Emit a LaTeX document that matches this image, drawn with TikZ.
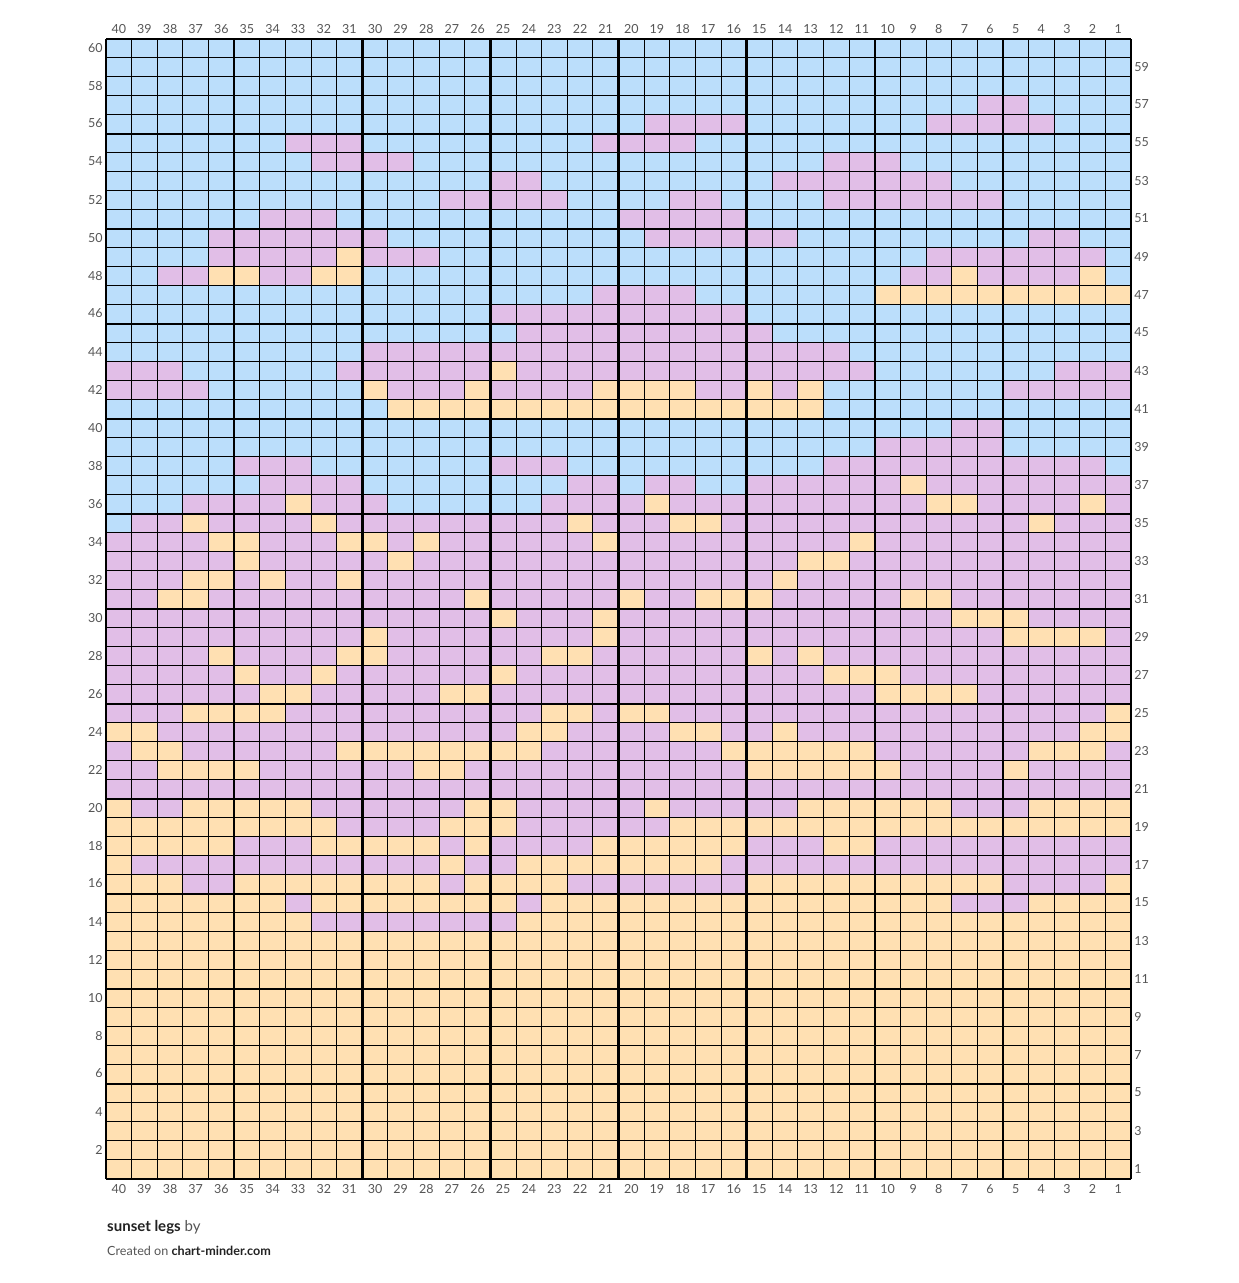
\documentclass[tikz,border=0pt]{standalone}
\usepackage{fontspec}
\setmainfont{Lato}
\definecolor{chartblue}{HTML}{BBDEFB}
\definecolor{chartpurple}{HTML}{E1BEE7}
\definecolor{chartpeach}{HTML}{FFE0B2}
\definecolor{labelgray}{HTML}{555555}
\definecolor{titleblack}{HTML}{222222}
\tikzset{
  cellB/.style={fill=chartblue},
  cellP/.style={fill=chartpurple},
  cellO/.style={fill=chartpeach},
  thin rule/.style={line width=1pt},
  thick rule/.style={line width=2.5pt},
  numlabel/.style={font=\fontsize{12.5}{14}\selectfont, text=labelgray, inner sep=0pt},
}
% one chart row: #1 row number, #2 cells from column 40 (left) to column 1 (right)
\newcommand\knitrow[2]{\def\knitr{#1}\def\knitc{0}\knitcell#2\relax}
\newcommand\knitcell[1]{%
  \ifx#1\relax\else
    \fill[cell#1] (\knitc,\knitr-1) rectangle ++(1,1);
    \pgfmathtruncatemacro\knitc{\knitc+1}%
    \expandafter\knitcell
  \fi}
\begin{document}
\begin{tikzpicture}[x=25.625pt,y=19pt]
\useasboundingbox (-4.137,-5.474) rectangle (44.176,62.053);
% rows 1 to 13 are all peach
\fill[cellO] (0,0) rectangle (40,13);
\knitrow{60}{BBBBB BBBBB BBBBB BBBBB BBBBB BBBBB BBBBB BBBBB}
\knitrow{59}{BBBBB BBBBB BBBBB BBBBB BBBBB BBBBB BBBBB BBBBB}
\knitrow{58}{BBBBB BBBBB BBBBB BBBBB BBBBB BBBBB BBBBB BBBBB}
\knitrow{57}{BBBBB BBBBB BBBBB BBBBB BBBBB BBBBB BBBBP PBBBB}
\knitrow{56}{BBBBB BBBBB BBBBB BBBBB BPPPP BBBBB BBPPP PPBBB}
\knitrow{55}{BBBBB BBPPP BBBBB BBBBP PPPBB BBBBB BBBBB BBBBB}
\knitrow{54}{BBBBB BBBPP PPBBB BBBBB BBBBB BBBPP PBBBB BBBBB}
\knitrow{53}{BBBBB BBBBB BBBBB PPBBB BBBBB BPPPP PPPBB BBBBB}
\knitrow{52}{BBBBB BBBBB BBBPP PPPBB BBPPB BBBPP PPPPP BBBBB}
\knitrow{51}{BBBBB BPPPB BBBBB BBBBB PPPPP BBBBB BBBBB BBBBB}
\knitrow{50}{BBBBP PPPPP PBBBB BBBBB BPPPP PPBBB BBBBB BPPBB}
\knitrow{49}{BBBBP PPPPO PPPBB BBBBB BBBBB BBBBB BBPPP PPPPB}
\knitrow{48}{BBPPO OPPOO BBBBB BBBBB BBBBB BBBBB BPPOP PPPOB}
\knitrow{47}{BBBBB BBBBB BBBBB BBBBP PPPBB BBBBB OOOOO OOOOO}
\knitrow{46}{BBBBB BBBBB BBBBB PPPPP PPPPP BBBBB BBBBB BBBBB}
\knitrow{45}{BBBBB BBBBB BBBBB BPPPP PPPPP PBBBB BBBBB BBBBB}
\knitrow{44}{BBBBB BBBBB PPPPP PPPPP PPPPP PPPPB BBBBB BBBBB}
\knitrow{43}{PPPBB BBBBP PPPPP OPPPP PPPPP PPPPP BBBBB BBPPP}
\knitrow{42}{PPPPB BBBBB OPPPO PPPPO OOOPP OPOBB BBBBB PPPPP}
\knitrow{41}{BBBBB BBBBB BOOOO OOOOO OOOOO OOOBB BBBBB BBBBB}
\knitrow{40}{BBBBB BBBBB BBBBB BBBBB BBBBB BBBBB BBBPP BBBBB}
\knitrow{39}{BBBBB BBBBB BBBBB BBBBB BBBBB BBBBB PPPPP BBBBB}
\knitrow{38}{BBBBB PPPBB BBBBB PPPBB BBBBB BBBPP PPPPP PPPPB}
\knitrow{37}{BBBBB BPPPP BBBBB BBBPP BPPBB PPPPP POPPP PPPPP}
\knitrow{36}{BBBPP PPOPP PBBBB BBPPP POPPP PPPPP PPOOP PPPOP}
\knitrow{35}{BPPOP PPPOP PPPPP PPPOP PPOOP PPPPP PPPPP POPPP}
\knitrow{34}{PPPPO OPPPO OPOPP PPPPO PPPPP PPPPO PPPPP PPPPP}
\knitrow{33}{PPPPP OPPPP POPPP PPPPP PPPPP PPOOP PPPPP PPPPP}
\knitrow{32}{PPPOO POPPO PPPPP PPPPP PPPPP POPPP PPPPP PPPPP}
\knitrow{31}{PPOOP PPPPP PPPPO PPPPP OPPOO OPPPP POOPP PPPPP}
\knitrow{30}{PPPPP PPPPP PPPPP OPPPO PPPPP PPPPP PPPOO OPPPP}
\knitrow{29}{PPPPP PPPPP OPPPP PPPPO PPPPP PPPPP PPPPP OOOOP}
\knitrow{28}{PPPPO PPPPO OPPPP PPOOP PPPPP OPOPP PPPPP PPPPP}
\knitrow{27}{PPPPP OPPOP PPPPP OPPPP PPPPP PPPOO OPPPP PPPPP}
\knitrow{26}{PPPPP POOPP PPPOO PPPPP PPPPP PPPPP OOOOP PPPPP}
\knitrow{25}{PPPOO OOPPP PPPPP PPOOP OOPPP PPPPP PPPPP PPPPO}
\knitrow{24}{OOPPP PPPPP PPPPP POOPP PPOOP POPPP PPPPP PPPOO}
\knitrow{23}{POOPP PPPPO OOOOO OOPPP PPPPO OOOOO PPPPP POOOP}
\knitrow{22}{PPOOO OPPPP PPOOP PPPPP PPPPP OOOOO OPPPP OPPPP}
\knitrow{21}{PPPPP PPPPP PPPPP PPPPP PPPPP PPPPP PPPPP PPPPP}
\knitrow{20}{OPPOO OOOPP PPPPO OPPPP POPPP PPOOO OOOPP POOOO}
\knitrow{19}{OOOOO OOOOP PPPOO OPPPP PPOOO OOOOO OOOOO OOOOO}
\knitrow{18}{OOOOO PPPOO OOOPO PPPPO OOOOO PPPOO PPPPP PPPPP}
\knitrow{17}{OPPPP PPPPP PPPOP POOOO OOOOP PPPPP PPPPP PPPPP}
\knitrow{16}{OOOPP OOOOO OOOPO OOOPP PPPPP OOOOO OOOOO PPPPO}
\knitrow{15}{OOOOO OOPOO OOOOO OPOOO OOOOO OOOOO OOOPP POOOO}
\knitrow{14}{OOOOO OOOPP PPPPP POOOO OOOOO OOOOO OOOOO OOOOO}
% grid
\draw[thin rule] (0,0) grid[step=1] (40,60);
\foreach \k in {0,5,...,40}
  \draw[thick rule] (\k,0) -- (\k,60);
\foreach \k in {0,5,...,60}
  \draw[thick rule] (0,\k) -- (40,\k);
% column numbers
\foreach \c in {1,...,40} {
  \node[numlabel] (coltop\c) at (40.5-\c,60.53) {\c};
  \node[numlabel] (colbot\c) at (40.5-\c,-0.53) {\c};
}
% row numbers, even left and odd right
\foreach \r in {2,4,...,60}
  \node[numlabel, anchor=east] (rowleft\r) at (-0.12,\r-0.45) {\r};
\foreach \r in {1,3,...,59}
  \node[numlabel, anchor=west] (rowright\r) at (40.12,\r-0.45) {\r};
% title
\node[anchor=west, inner sep=0pt, font=\fontsize{15}{17}\selectfont, text=titleblack] (title) at (0.04,-2.55) {\textbf{sunset legs} \textcolor{labelgray}{by}};
\node[anchor=west, inner sep=0pt, font=\fontsize{12.6}{14}\selectfont, text=labelgray] (credit) at (0.04,-3.79) {Created on \textcolor{titleblack}{\textbf{chart-minder.com}}};
\end{tikzpicture}
\end{document}
